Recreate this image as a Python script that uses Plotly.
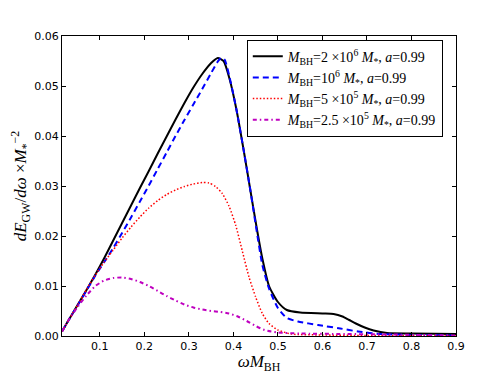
import plotly.graph_objects as go

# --- data ---
x_black = [0.015, 0.03, 0.05, 0.07, 0.09, 0.11, 0.13, 0.15, 0.17, 0.19, 0.21, 0.23, 0.25, 0.27, 0.29, 0.31,
           0.33, 0.35, 0.365, 0.378, 0.392, 0.407, 0.423, 0.438, 0.452, 0.465, 0.48, 0.50, 0.52, 0.55, 0.60,
           0.625, 0.645, 0.66, 0.675, 0.695, 0.715, 0.745, 0.80, 0.90]
y_black = [0.0009, 0.0032, 0.0062, 0.0092, 0.0123, 0.0156, 0.0191, 0.0226, 0.0261, 0.0296, 0.0330, 0.0365,
           0.0399, 0.0433, 0.0466, 0.0497, 0.0524, 0.0546, 0.0556, 0.0550, 0.0512, 0.0452, 0.0372, 0.0292,
           0.0218, 0.0155, 0.0100, 0.0068, 0.0052, 0.0047, 0.0045, 0.0044, 0.0039, 0.0032, 0.0025, 0.0017,
           0.0011, 0.0006, 0.0005, 0.0004]

x_blue = [0.015, 0.03, 0.05, 0.07, 0.09, 0.11, 0.13, 0.15, 0.17, 0.19, 0.21, 0.23, 0.25, 0.27, 0.29, 0.31,
          0.33, 0.35, 0.365, 0.372, 0.38, 0.392, 0.407, 0.423, 0.438, 0.452, 0.465, 0.48, 0.50, 0.52, 0.545,
          0.59, 0.64, 0.68, 0.73, 0.80, 0.90]
y_blue = [0.0009, 0.0032, 0.0061, 0.0091, 0.0121, 0.0148, 0.0176, 0.0206, 0.0237, 0.0269, 0.0301, 0.0334,
          0.0367, 0.0400, 0.0432, 0.0463, 0.0494, 0.0526, 0.0549, 0.0556, 0.0553, 0.0515, 0.0452, 0.0372,
          0.0292, 0.0212, 0.0142, 0.0095, 0.0056, 0.0036, 0.0029, 0.0022, 0.0015, 0.0009, 0.0004, 0.0002,
          0.0001]

x_red = [0.015, 0.03, 0.05, 0.07, 0.09, 0.11, 0.13, 0.15, 0.17, 0.19, 0.21, 0.23, 0.25, 0.27, 0.29, 0.31,
         0.33, 0.345, 0.36, 0.375, 0.39, 0.405, 0.42, 0.435, 0.45, 0.465, 0.48, 0.50, 0.53, 0.60, 0.70, 0.90]
y_red = [0.0009, 0.0032, 0.0062, 0.0093, 0.0122, 0.0148, 0.0172, 0.0196, 0.0218, 0.0238, 0.0256, 0.0271,
         0.0283, 0.0292, 0.0299, 0.0304, 0.0307, 0.0306, 0.0299, 0.0285, 0.0260, 0.0222, 0.0170, 0.0118,
         0.0078, 0.0045, 0.0025, 0.0012, 0.0004, 0.0002, 0.0001, 0.0000]

x_mag = [0.015, 0.03, 0.05, 0.07, 0.09, 0.11, 0.13, 0.15, 0.17, 0.19, 0.21, 0.23, 0.25, 0.27, 0.29, 0.31,
         0.33, 0.35, 0.37, 0.39, 0.41, 0.43, 0.45, 0.47, 0.50, 0.55, 0.65, 0.75, 0.90]
y_mag = [0.0009, 0.0032, 0.0058, 0.0081, 0.0100, 0.0111, 0.0116, 0.0117, 0.0114, 0.0108, 0.0100, 0.0090,
         0.0080, 0.0071, 0.0063, 0.0057, 0.0053, 0.0050, 0.0048, 0.0045, 0.0039, 0.0030, 0.0020, 0.0012,
         0.0007, 0.0005, 0.0004, 0.0003, 0.0001]

labels = [
    "<i>M</i><sub>BH</sub>=2 ×10<sup>6</sup> <i>M</i><sub>*</sub>, <i>a</i>=0.99",
    "<i>M</i><sub>BH</sub>=10<sup>6</sup> <i>M</i><sub>*</sub>, <i>a</i>=0.99",
    "<i>M</i><sub>BH</sub>=5 ×10<sup>5</sup> <i>M</i><sub>*</sub>, <i>a</i>=0.99",
    "<i>M</i><sub>BH</sub>=2.5 ×10<sup>5</sup> <i>M</i><sub>*</sub>, <i>a</i>=0.99",
]
x_ticks = [0.1, 0.2, 0.3, 0.4, 0.5, 0.6, 0.7, 0.8, 0.9]
y_ticks = [0.00, 0.01, 0.02, 0.03, 0.04, 0.05, 0.06]

fig = go.Figure()
series = [
    (x_black, y_black, dict(color="black", width=2, dash="solid")),
    (x_blue, y_blue, dict(color="#0000ff", width=2, dash="6px,4px")),
    (x_red, y_red, dict(color="#ff0000", width=1.5, dash="1.5px,2px")),
    (x_mag, y_mag, dict(color="#bf00bf", width=2, dash="4px,3px,1.5px,3px")),
]
for (xs, ys, ln), lab in zip(series, labels):
    fig.add_trace(go.Scatter(x=xs, y=ys, mode="lines", name=lab,
                             line=dict(shape="spline", smoothing=0.6, **ln)))

axis_common = dict(showline=True, linecolor="black", linewidth=1, mirror="allticks",
                   ticks="inside", ticklen=4, tickcolor="black", showgrid=False, zeroline=False,
                   automargin=False,
                   tickfont=dict(family="DejaVu Sans", size=11, color="black"))

fig.update_xaxes(range=[0.015, 0.9], tickvals=x_ticks, ticktext=[f"{v:.1f}" for v in x_ticks],
                 title=dict(text="<i>ωM</i><sub>BH</sub>",
                            font=dict(family="Liberation Serif", size=17, color="black"), standoff=2),
                 **axis_common)
fig.update_yaxes(range=[0, 0.06], tickvals=y_ticks, ticktext=[f"{v:.2f}" for v in y_ticks],
                 title=dict(text="<i>dE</i><sub>GW</sub>/<i>dω</i> ×<i>M</i><sub>*</sub><sup>−2</sup>",
                            font=dict(family="Liberation Serif", size=17, color="black"), standoff=6),
                 **axis_common)

# page body has an 8px default margin, so the figure is sized to fit the 498x374 window
fig.update_layout(
    width=490, height=366,
    margin=dict(l=54, r=42, t=28, b=38),
    paper_bgcolor="white", plot_bgcolor="white",
    legend=dict(x=0.469, y=0.988, xanchor="left", yanchor="top",
                bordercolor="black", borderwidth=1, bgcolor="white",
                font=dict(family="Liberation Serif", size=14, color="black"),
                itemwidth=30, tracegroupgap=0),
    showlegend=True,
)

fig.write_html("out.html")
